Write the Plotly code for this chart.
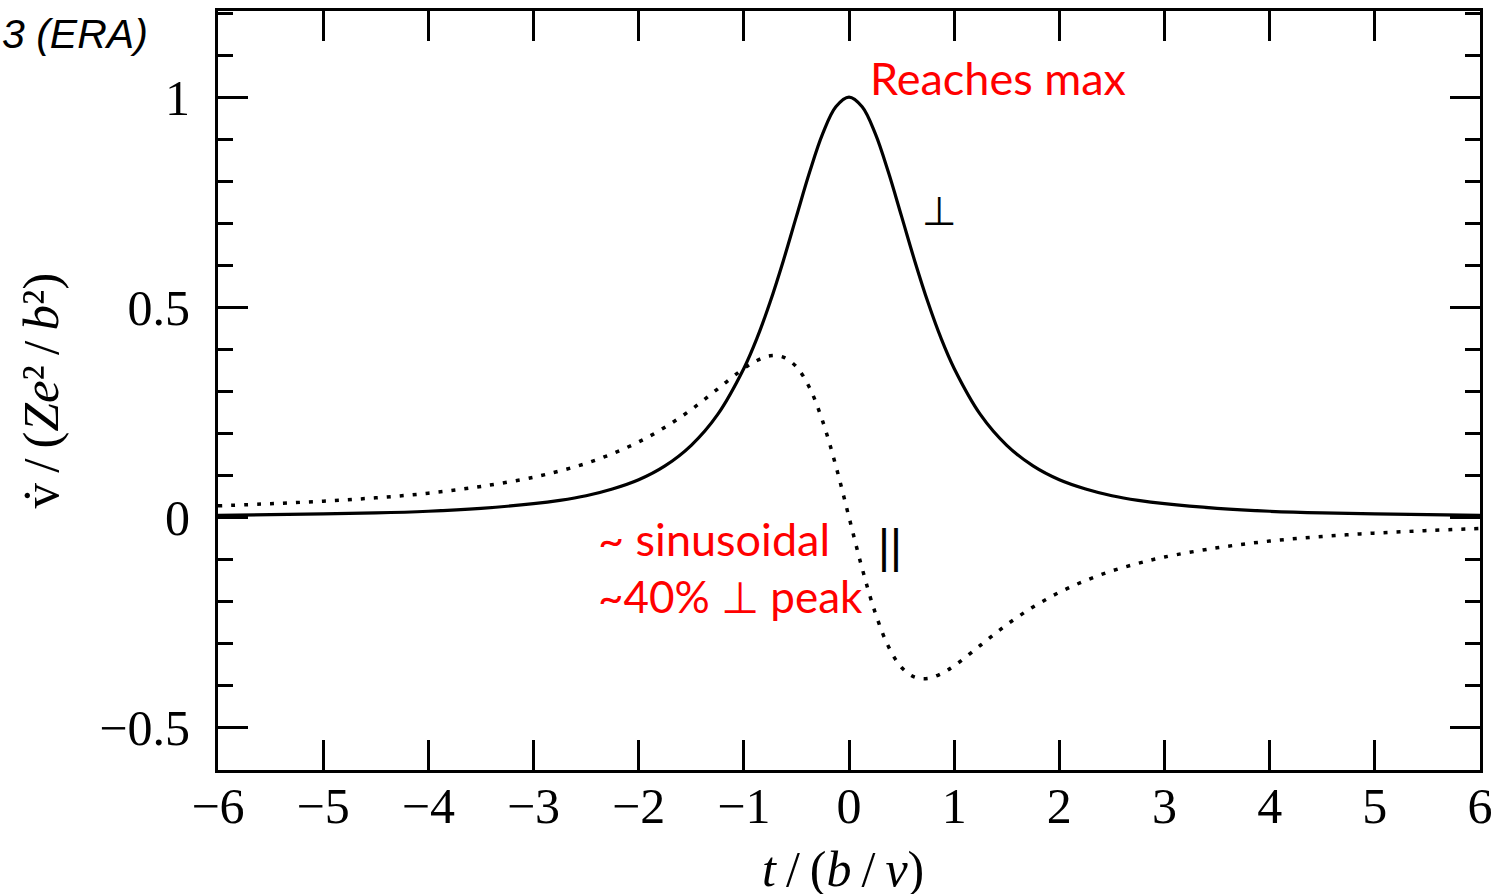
import plotly.graph_objects as go

# time in units of b/v
t = [-6, -5.5, -5, -4.5, -4, -3.5, -3, -2.75, -2.5, -2.25, -2, -1.75, -1.5, -1.25,
     -1, -0.875, -0.75, -0.625, -0.5, -0.375, -0.25, -0.125, 0,
     0.125, 0.25, 0.375, 0.5, 0.625, 0.75, 0.875, 1,
     1.25, 1.5, 1.75, 2, 2.25, 2.5, 2.75, 3, 3.5, 4, 4.5, 5, 5.5, 6]

# perpendicular component (solid)
v_perp = [0.004, 0.006, 0.008, 0.010, 0.014, 0.021, 0.032, 0.040, 0.051, 0.067,
          0.089, 0.122, 0.171, 0.244,
          0.354, 0.426, 0.512, 0.610, 0.716, 0.821, 0.913, 0.977, 1.000,
          0.977, 0.913, 0.821, 0.716, 0.610, 0.512, 0.426, 0.354,
          0.244, 0.171, 0.122, 0.089, 0.067, 0.051, 0.040, 0.032, 0.021, 0.014,
          0.010, 0.008, 0.006, 0.004]

# parallel component (dotted)
v_par = [0.027, 0.032, 0.038, 0.046, 0.057, 0.073, 0.095, 0.110, 0.128, 0.151,
         0.179, 0.214, 0.256, 0.305,
         0.354, 0.373, 0.384, 0.381, 0.358, 0.308, 0.228, 0.122, 0.000,
         -0.122, -0.228, -0.308, -0.358, -0.381, -0.384, -0.373, -0.354,
         -0.305, -0.256, -0.214, -0.179, -0.151, -0.128, -0.110, -0.095, -0.073,
         -0.057, -0.046, -0.038, -0.032, -0.027]

y_tickvals = [-0.5, 0, 0.5, 1]
y_ticktext = ["\u22120.5", "0", "0.5", "1"]
x_tickvals = [-6, -5, -4, -3, -2, -1, 0, 1, 2, 3, 4, 5, 6]
x_ticktext = [("\u2212" + str(-v)) if v < 0 else str(v) for v in x_tickvals]

SERIF = "Liberation Serif"
SANS_RED = "Lato"
THIN = "\u2009"

fig = go.Figure()
fig.add_trace(go.Scatter(x=t, y=v_par, mode="lines", line_shape="spline",
                         line=dict(color="black", width=3.5, dash="4px,9px"),
                         showlegend=False))
fig.add_trace(go.Scatter(x=t, y=v_perp, mode="lines", line_shape="spline",
                         line=dict(color="black", width=3.2), showlegend=False))

axis_common = dict(
    showline=True, linecolor="black", linewidth=3, mirror="ticks",
    ticks="inside", ticklen=30, tickwidth=2.5, tickcolor="black",
    showgrid=False, zeroline=False,
    tickfont=dict(family=SERIF, size=50, color="black"),
)

fig.update_xaxes(range=[-6, 6], tickmode="array", tickvals=x_tickvals,
                 ticktext=x_ticktext, ticklabelstandoff=-10, **axis_common)
fig.update_yaxes(range=[-0.602, 1.205], tickmode="array", tickvals=y_tickvals,
                 ticktext=y_ticktext, ticklabelstandoff=15,
                 minor=dict(dtick=0.1, tick0=0, ticks="inside", ticklen=15,
                            tickwidth=2.5, tickcolor="black"),
                 **axis_common)

annotations = [
    dict(text="Reaches max", x=0.18, y=1.045, xref="x", yref="y",
         xanchor="left", yanchor="middle", showarrow=False,
         font=dict(family=SANS_RED, size=45, color="red")),
    dict(text="~ sinusoidal", x=-2.41, y=-0.052, xref="x", yref="y",
         xanchor="left", yanchor="middle", showarrow=False,
         font=dict(family=SANS_RED, size=45, color="red")),
    dict(text="~40% \u22a5 peak", x=-2.41, y=-0.188, xref="x", yref="y",
         xanchor="left", yanchor="middle", showarrow=False,
         font=dict(family=SANS_RED, size=44, color="red")),
    dict(text="\u22a5", x=0.865, y=0.729, xref="x", yref="y",
         xanchor="center", yanchor="middle", showarrow=False,
         font=dict(family="DejaVu Sans", size=40, color="black")),
    dict(text="||", x=0.39, y=-0.069, xref="x", yref="y",
         xanchor="center", yanchor="middle", showarrow=False,
         font=dict(family="Liberation Sans", size=46, color="black")),
    dict(text="<i>3 (ERA)</i>", x=-0.1726, y=0.97, xref="paper", yref="paper",
         xanchor="left", yanchor="middle", showarrow=False,
         font=dict(family="Liberation Sans", size=41, color="black")),
    dict(text=f"<i>t</i>{THIN}/{THIN}(<i>b</i>{THIN}/{THIN}<i>v</i>)",
         x=0.495, y=-0.130, xref="paper", yref="paper",
         xanchor="center", yanchor="middle", showarrow=False,
         font=dict(family=SERIF, size=50, color="black")),
    dict(text=f"v\u0307{THIN}/{THIN}(<i>Ze</i>\u00b2{THIN}/{THIN}<i>b</i>\u00b2)",
         x=-0.141, y=0.50, xref="paper", yref="paper",
         xanchor="center", yanchor="middle", textangle=-90, showarrow=False,
         font=dict(family=SERIF, size=51, color="black")),
]

fig.update_layout(
    width=1501, height=894,
    margin=dict(l=218, r=20, t=8, b=124),
    paper_bgcolor="white", plot_bgcolor="white",
    annotations=annotations,
)

fig.write_html("out.html")
